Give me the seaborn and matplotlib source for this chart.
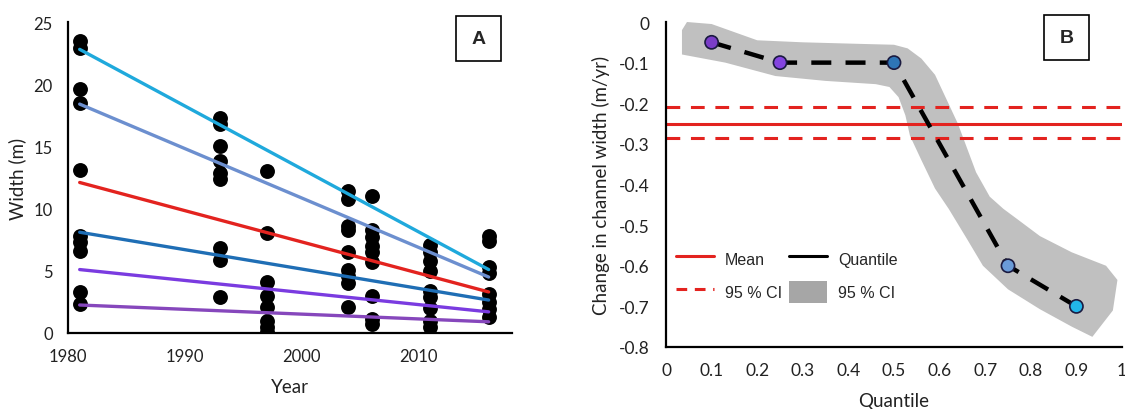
import numpy as np
import pandas as pd
import matplotlib
matplotlib.use("Agg")
import matplotlib.pyplot as plt
from matplotlib.lines import Line2D
from matplotlib.patches import Patch, Rectangle
import seaborn as sns

# ---------------- Panel A data ----------------
years = [1981, 1993, 1997, 2004, 2006, 2011, 2016]
width_1981 = [23.5, 22.9, 19.6, 18.5, 13.1, 7.8, 7.3, 6.6, 3.3, 2.3]
width_1993 = [17.3, 16.8, 15.0, 13.8, 12.9, 12.4, 6.8, 5.9, 2.9]
width_1997 = [13.0, 8.0, 4.1, 3.0, 2.1, 1.0, 0.5, 0.1]
width_2004 = [11.4, 10.8, 8.6, 8.3, 6.5, 5.1, 4.6, 4.0, 2.1]
width_2006 = [11.0, 8.3, 7.7, 7.0, 6.5, 5.7, 3.0, 1.1, 0.7]
width_2011 = [7.1, 6.5, 5.8, 5.0, 3.4, 2.9, 2.0, 1.0, 0.5]
width_2016 = [7.8, 7.4, 5.3, 4.8, 3.1, 2.5, 1.9, 1.3]

fit_years = [1981, 2016]
fit_q90 = [22.8, 5.1]
fit_q75 = [18.4, 4.5]
fit_mean = [12.1, 3.3]
fit_q50 = [8.1, 2.65]
fit_q25 = [5.1, 1.7]
fit_q10 = [2.25, 0.9]

# ---------------- Panel B data ----------------
quantiles = [0.1, 0.25, 0.5, 0.75, 0.9]
quant_change = [-0.05, -0.10, -0.10, -0.60, -0.70]
mean_change = -0.25
mean_ci = [-0.21, -0.285]
band_q = [0.035, 0.046, 0.10, 0.20, 0.30, 0.43, 0.50, 0.53, 0.56, 0.59, 0.615,
          0.64, 0.68, 0.71, 0.74, 0.77, 0.82, 0.89, 0.965, 0.99, 0.98, 0.935,
          0.89, 0.82, 0.75, 0.695, 0.66, 0.62, 0.59, 0.56, 0.535, 0.525, 0.51,
          0.49, 0.46, 0.35, 0.24, 0.13, 0.035]
band_v = [-0.02, 0.0, -0.005, -0.045, -0.05, -0.054, -0.056, -0.065, -0.09,
          -0.13, -0.19, -0.25, -0.37, -0.43, -0.46, -0.485, -0.527, -0.567,
          -0.60, -0.635, -0.71, -0.775, -0.75, -0.707, -0.658, -0.60, -0.534,
          -0.46, -0.41, -0.34, -0.28, -0.23, -0.185, -0.16, -0.153, -0.145,
          -0.133, -0.10, -0.08]

# ---------------- style ----------------
sns.set_theme(style="white")
plt.rcParams['font.family'] = ['Lato', 'DejaVu Sans']
plt.rcParams['axes.linewidth'] = 1.6

fig = plt.figure(figsize=(11.25, 4.1), dpi=100)
axA = fig.add_axes([68/1125, 1-334/410, 444/1125, 311/410])
axB = fig.add_axes([666/1125, 1-348/410, 456/1125, 325/410])

# ---------------- Panel A ----------------
groups = [width_1981, width_1993, width_1997, width_2004, width_2006, width_2011, width_2016]
dfA = pd.DataFrame({
    "Year": np.concatenate([[y]*len(g) for y, g in zip(years, groups)]),
    "Width": np.concatenate(groups),
})
fit_series = [("q90", fit_q90, "#1FA9DC"), ("q75", fit_q75, "#6C8FCF"),
              ("mean", fit_mean, "#E3231F"), ("q50", fit_q50, "#1F6EB5"),
              ("q25", fit_q25, "#7A3BE0"), ("q10", fit_q10, "#8647BC")]
for name, vals, col in fit_series:
    sns.lineplot(x=fit_years, y=vals, ax=axA, color=col, linewidth=2.4)
sns.scatterplot(data=dfA, x="Year", y="Width", ax=axA, color="black",
                s=115, edgecolor="black", linewidth=0, zorder=1)

axA.set_xlim(1980, 2018)
axA.set_ylim(0, 25)
axA.set_xticks([1980, 1990, 2000, 2010])
axA.set_yticks([0, 5, 10, 15, 20, 25])
axA.tick_params(axis='both', length=0, labelsize=12, colors='#222222')
axA.tick_params(axis='x', pad=11)
axA.tick_params(axis='y', pad=11)
axA.set_xlabel("Year", fontsize=13.5, labelpad=10, color='#222222')
axA.set_ylabel("Width (m)", fontsize=13.5, labelpad=5, color='#222222')
for s in ['top', 'right']:
    axA.spines[s].set_visible(False)
for s in ['left', 'bottom']:
    axA.spines[s].set_color('black')

axA.add_patch(Rectangle((0.874, 0.875), 0.101, 0.144, transform=axA.transAxes,
                        fill=False, edgecolor='black', linewidth=1.2, clip_on=False))
axA.text(0.9245, 0.947, "A", transform=axA.transAxes, ha='center', va='center',
         fontsize=14, fontweight='bold', family=['Liberation Sans'])

# ---------------- Panel B ----------------
axB.fill(band_q, band_v, color="#C0C0C0", linewidth=0, zorder=1)
axB.axhline(mean_change, color="#E3231F", linewidth=2.2, zorder=2)
for c in mean_ci:
    axB.axhline(c, color="#E3231F", linewidth=2.2, linestyle=(0, (4.5, 3.5)), zorder=2)
sns.lineplot(x=quantiles, y=quant_change, ax=axB, color="black", linewidth=3.2,
             linestyle=(0, (4.5, 3.2)), zorder=3)
dfB = pd.DataFrame({"q": quantiles, "v": quant_change, "k": [str(q) for q in quantiles]})
sns.scatterplot(data=dfB, x="q", y="v", hue="k", ax=axB,
                palette=["#7A3DC8", "#8444E0", "#2E75B6", "#6A9BD8", "#22B5EA"],
                s=90, edgecolor="#1a1a40", linewidth=1.2, zorder=4, legend=False)

axB.set_xlim(0, 1)
axB.set_ylim(-0.8, 0)
xt = [0, 0.1, 0.2, 0.3, 0.4, 0.5, 0.6, 0.7, 0.8, 0.9, 1]
yt = [0, -0.1, -0.2, -0.3, -0.4, -0.5, -0.6, -0.7, -0.8]
axB.set_xticks(xt)
axB.set_xticklabels([("%g" % v) for v in xt])
axB.set_yticks(yt)
axB.set_yticklabels([("%g" % v).replace("\u2212", "-") for v in yt])
axB.tick_params(axis='both', length=0, labelsize=12.5, colors='#222222')
axB.tick_params(axis='x', pad=11)
axB.tick_params(axis='y', pad=12)
axB.set_xlabel("Quantile", fontsize=13.5, labelpad=10, color='#222222')
axB.set_ylabel("Change in channel width (m/yr)", fontsize=13.5, labelpad=6, color='#222222')
for s in ['top', 'right']:
    axB.spines[s].set_visible(False)
for s in ['left', 'bottom']:
    axB.spines[s].set_color('black')

handles = [Line2D([], [], color="#E3231F", linewidth=2.2),
           Line2D([], [], color="#E3231F", linewidth=2.2, linestyle=(0, (3.5, 2.5))),
           Line2D([], [], color="black", linewidth=2.2),
           Patch(facecolor="#A6A6A6", edgecolor="none")]
labels = ["Mean", "95 % CI", "Quantile", "95 % CI"]
axB.legend(handles, labels, ncol=2, loc='upper left', bbox_to_anchor=(0.0, 0.335),
           frameon=False, prop={'family': 'Liberation Sans', 'size': 11.5},
           handlelength=2.4, handleheight=1.7, labelspacing=0.75, columnspacing=0.4,
           handletextpad=0.7, borderaxespad=0.2)

axB.add_patch(Rectangle((0.829, 0.883), 0.099, 0.1385, transform=axB.transAxes,
                        fill=False, edgecolor='black', linewidth=1.2, clip_on=False))
axB.text(0.8785, 0.952, "B", transform=axB.transAxes, ha='center', va='center',
         fontsize=14, fontweight='bold', family=['Liberation Sans'])

fig.savefig("out.png", dpi=100, facecolor="white")
